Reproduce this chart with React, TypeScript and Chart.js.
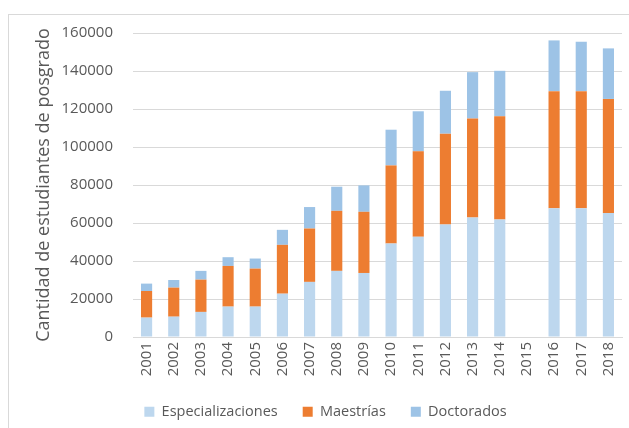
import React, { useEffect, useRef } from "react";
import { Chart, registerables } from "chart.js";

Chart.register(...registerables);

const years = ["2001","2002","2003","2004","2005","2006","2007","2008","2009","2010","2011","2012","2013","2014","2015","2016","2017","2018"];
const especializaciones = [10200,10700,13200,16000,16000,22800,29000,34800,33700,49200,52700,59200,62900,61900,null,67700,67700,65200];
const maestrias = [14000,15300,17000,21400,20000,25700,28100,31600,32200,41100,45000,47800,52100,54300,null,61700,61700,60100];
const doctorados = [3900,4000,4600,4600,5300,7900,11300,12700,13900,18800,21100,22600,24400,23900,null,26700,26000,26600];

const FONT = "'Open Sans', sans-serif";
const GREY = "#595959";

export default function App() {
  const ref = useRef<HTMLCanvasElement>(null);
  useEffect(() => {
    if (!ref.current) return;
    const chart = new Chart(ref.current, {
      type: "bar",
      data: {
        labels: years,
        datasets: [
          { label: "Especializaciones", data: especializaciones, backgroundColor: "#BDD7EE" },
          { label: "Maestrías", data: maestrias, backgroundColor: "#ED7D31" },
          { label: "Doctorados", data: doctorados, backgroundColor: "#9DC3E6" },
        ],
      },
      options: {
        responsive: false,
        animation: false,
        devicePixelRatio: 1,
        datasets: { bar: { categoryPercentage: 1, barPercentage: 0.41 } },
        layout: { padding: { left: 20, right: 27, top: 18, bottom: 16 } },
        plugins: {
          tooltip: { enabled: false },
          legend: {
            position: "bottom",
            labels: {
              boxWidth: 10,
              boxHeight: 10,
              padding: 25,
              color: GREY,
              font: { family: FONT, size: 14.5 },
            },
          },
        },
        scales: {
          x: {
            stacked: true,
            grid: { display: false, drawTicks: false },
            border: { display: true, color: "#d9d9d9", width: 1 },
            ticks: {
              minRotation: 90,
              maxRotation: 90,
              autoSkip: false,
              padding: 5,
              color: GREY,
              font: { family: FONT, size: 15 },
            },
            afterFit: (s: any) => { s.height = 42.5; },
          },
          y: {
            stacked: true,
            min: 0,
            max: 160000,
            grid: { color: "#d9d9d9", lineWidth: 1, drawTicks: false },
            border: { display: false },
            ticks: {
              stepSize: 20000,
              padding: 20,
              color: GREY,
              font: { family: FONT, size: 15 },
              callback: (v: any) => String(v),
            },
            title: {
              display: true,
              text: "Cantidad de estudiantes de posgrado",
              color: GREY,
              font: { family: FONT, size: 18 },
              padding: { top: 4, bottom: 0 },
            },
            afterFit: (s: any) => {
              s.width = 104;
              s.paddingTop = 0;
              s.paddingBottom = 0;
            },
          },
        },
      },
    });
    return () => chart.destroy();
  }, []);

  return (
    <div style={{ position: "fixed", left: 0, top: 0, width: 629, height: 428, overflow: "hidden", background: "#fff" }}>
      <div style={{ position: "absolute", left: 8, top: 14, width: 660, height: 440, border: "1px solid #d9d9d9" }}>
        <canvas ref={ref} width={640} height={430} style={{ display: "block", width: 640, height: 430 }} />
      </div>
    </div>
  );
}
